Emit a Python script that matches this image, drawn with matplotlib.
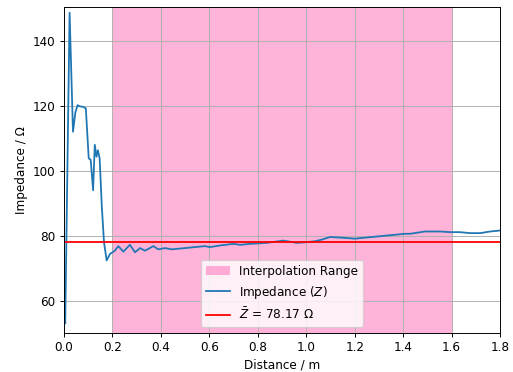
import matplotlib
matplotlib.use('Agg')
import matplotlib.pyplot as plt

# distance along the line (m) and measured impedance (ohm)
distance = [0.0, 0.005, 0.023, 0.037, 0.047, 0.056, 0.065, 0.078, 0.09, 0.102,
            0.11, 0.12, 0.127, 0.134, 0.14, 0.147, 0.156, 0.165, 0.176, 0.19,
            0.21, 0.224, 0.245, 0.272, 0.293, 0.314, 0.334, 0.369, 0.389, 0.417,
            0.445, 0.472, 0.5, 0.54, 0.582, 0.603, 0.644, 0.699, 0.727, 0.768,
            0.837, 0.905, 0.961, 1.0, 1.036, 1.064, 1.098, 1.147, 1.201, 1.27,
            1.339, 1.408, 1.429, 1.49, 1.552, 1.594, 1.635, 1.676, 1.718, 1.759, 1.8]
impedance = [58, 53, 148.6, 112, 118, 120.2, 119.8, 119.7, 119.2, 103.8,
             103.4, 94, 108, 104.3, 106.3, 103.8, 89, 78, 72.4, 74.4,
             75.4, 76.8, 75.1, 77.2, 74.9, 76.2, 75.4, 76.8, 75.8, 76.2,
             75.8, 76.0, 76.2, 76.5, 76.8, 76.5, 77.0, 77.5, 77.2, 77.5,
             77.8, 78.5, 77.8, 78.0, 78.3, 78.8, 79.6, 79.4, 79.1, 79.6,
             80.1, 80.6, 80.6, 81.3, 81.3, 81.1, 81.1, 80.8, 80.8, 81.3, 81.6]
interp_range = (0.2, 1.6)
z_mean = 78.17

dpi = 86
fig = plt.figure(figsize=(513/dpi, 372/dpi), dpi=dpi)
ax = fig.add_axes([0.1248, 0.1056, 0.85, 0.8748])

ax.axvspan(interp_range[0], interp_range[1], color='hotpink', alpha=0.5,
           lw=0, label='Interpolation Range')
ax.plot(distance, impedance, color='tab:blue', lw=1.5, label='Impedance ($Z$)')
ax.axhline(z_mean, color='red', lw=1.5, label=r'$\bar{Z}$ = %.2f Ω' % z_mean)

ax.set_xlim(0, 1.8)
ax.set_ylim(50.15, 150.3)
ax.set_xticks([0.0, 0.2, 0.4, 0.6, 0.8, 1.0, 1.2, 1.4, 1.6, 1.8])
ax.grid(True)
ax.set_xlabel('Distance / m')
ax.set_ylabel('Impedance / Ω')
ax.legend(loc='lower center')

fig.savefig('out.png', dpi=dpi)
